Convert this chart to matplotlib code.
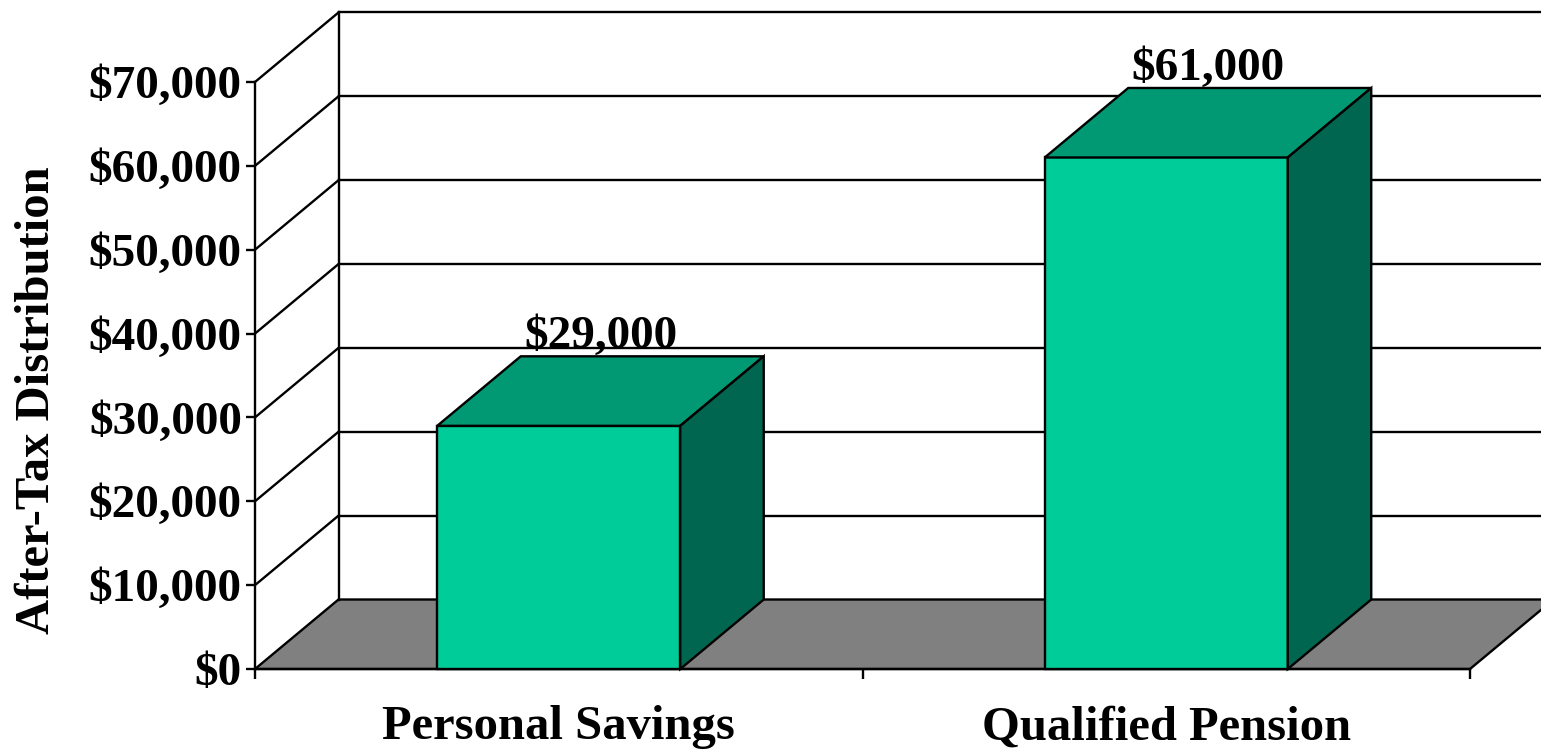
import matplotlib
matplotlib.use("Agg")
from matplotlib import pyplot as plt
from matplotlib.patches import Polygon

# data
categories = ["Personal Savings", "Qualified Pension"]
values = [29000, 61000]
value_labels = ["$29,000", "$61,000"]
y_ticks = [0, 10000, 20000, 30000, 40000, 50000, 60000, 70000]
y_tick_labels = ["$0", "$10,000", "$20,000", "$30,000", "$40,000", "$50,000", "$60,000", "$70,000"]

plt.rcParams['font.family'] = ['Liberation Serif', 'DejaVu Serif']
plt.rcParams['font.weight'] = 'bold'

front_col = "#00cc99"
top_col = "#009973"
side_col = "#006650"
floor_col = "#808080"
lw = 1.7

fig = plt.figure(figsize=(15.41, 7.5), dpi=100)
ax = fig.add_axes([255 / 1541, 81 / 750, 1215 / 1541, 587 / 750])
ax.set_xlim(0, 2)
ax.set_ylim(0, 70000)

# depth of the 3d box in data units
dx = 83.5 / (1215 / 2)
dy = 69.5 / (587 / 70000)

# floor
ax.add_patch(Polygon([(0, 0), (2, 0), (2 + dx, dy), (dx, dy)], closed=True,
                     facecolor=floor_col, edgecolor="black", lw=lw, clip_on=False, zorder=1))

# back wall and side wall grid
ax.plot([dx, dx], [dy, 70000 + dy], color="black", lw=lw, clip_on=False, zorder=1)
for t in y_ticks[1:]:
    ax.plot([dx, 2 + dx], [t + dy, t + dy], color="black", lw=lw, clip_on=False, zorder=1)
    ax.plot([0, dx], [t, t + dy], color="black", lw=lw, clip_on=False, zorder=1)

# bars
width = 0.4
for i, v in enumerate(values):
    c = i + 0.5
    x0, x1 = c - width / 2, c + width / 2
    ax.add_patch(Polygon([(x0, 0), (x1, 0), (x1, v), (x0, v)], closed=True,
                         facecolor=front_col, edgecolor="black", lw=lw, clip_on=False, zorder=3))
    ax.add_patch(Polygon([(x0, v), (x1, v), (x1 + dx, v + dy), (x0 + dx, v + dy)], closed=True,
                         facecolor=top_col, edgecolor="black", lw=lw, clip_on=False, zorder=3))
    ax.add_patch(Polygon([(x1, 0), (x1 + dx, dy), (x1 + dx, v + dy), (x1, v)], closed=True,
                         facecolor=side_col, edgecolor="black", lw=lw, clip_on=False, zorder=3))
    ax.annotate(value_labels[i], (c + dx / 2, v + dy), xytext=(0, 6), textcoords="offset points",
                ha="center", va="baseline", fontsize=34, fontweight="bold", zorder=4)

# axes styling
ax.spines["top"].set_visible(False)
ax.spines["right"].set_visible(False)
ax.spines["left"].set_linewidth(lw)
ax.spines["bottom"].set_linewidth(lw)
ax.spines["left"].set_zorder(2)
ax.spines["bottom"].set_zorder(2)
ax.patch.set_visible(False)

ax.set_yticks(y_ticks)
ax.set_yticklabels(y_tick_labels, fontsize=34, fontweight="bold")
ax.tick_params(axis="y", direction="out", length=6.5, width=lw, pad=3)

ax.set_xticks([0, 1, 2])
ax.set_xticklabels([])
ax.tick_params(axis="x", which="major", direction="out", length=7, width=lw)
ax.set_xticks([0.5, 1.5], minor=True)
ax.set_xticklabels(categories, minor=True, fontsize=35, fontweight="bold")
ax.tick_params(axis="x", which="minor", length=0, pad=26)

fig.text(37 / 1541, 1 - 400 / 750, "After-Tax Distribution", rotation=90,
         ha="center", va="center", fontsize=35, fontweight="bold")

plt.savefig("out.png", dpi=100)
